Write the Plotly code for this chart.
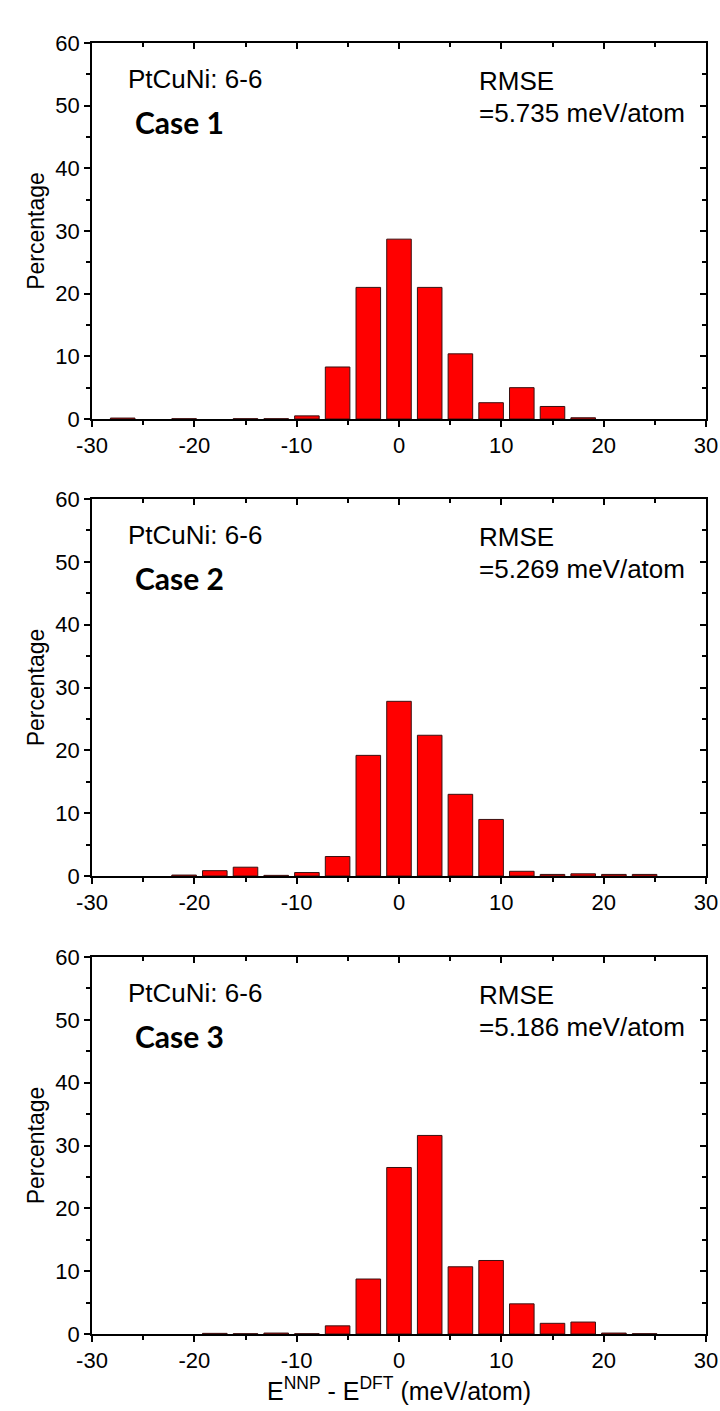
import plotly.graph_objects as go

# Bin centres (meV/atom)
bin_centers = [-27, -24, -21, -18, -15, -12, -9, -6, -3, 0, 3, 6, 9, 12, 15, 18, 21, 24]

# None = empty bin (no bar drawn)
case1_pct = [0.15, None, 0.05, None, 0.05, 0.05, 0.5, 8.3, 21.0, 28.7, 21.0, 10.4, 2.6, 5.0, 2.0, 0.2, None, None]
case2_pct = [None, None, 0.15, 0.85, 1.4, 0.1, 0.55, 3.1, 19.2, 27.8, 22.4, 13.0, 9.0, 0.75, 0.25, 0.35, 0.25, 0.25]
case3_pct = [None, None, None, 0.1, 0.05, 0.15, 0.05, 1.3, 8.75, 26.5, 31.6, 10.7, 11.7, 4.8, 1.7, 1.9, 0.15, 0.05]

case_labels = ["Case 1", "Case 2", "Case 3"]
rmse_labels = ["=5.735 meV/atom", "=5.269 meV/atom", "=5.186 meV/atom"]
system_label = "PtCuNi: 6-6"

x_ticks = [-30, -20, -10, 0, 10, 20, 30]
x_ticktext = ["-30", "-20", "-10", "0", "10", "20", "30"]
y_ticks = [0, 10, 20, 30, 40, 50, 60]
y_ticktext = ["0", "10", "20", "30", "40", "50", "60"]

series = [case1_pct, case2_pct, case3_pct]

W, H = 720, 1411
top_px, bot_px = 43, 1334
span = bot_px - top_px
panels_px = [(43, 419), (499, 876), (957, 1334)]
domains = [[(bot_px - b) / span, (bot_px - t) / span] for (t, b) in panels_px]

FONT = "Liberation Sans, Arial, sans-serif"

fig = go.Figure()
layout = dict(
    width=W, height=H,
    margin=dict(l=92, r=14, t=top_px, b=H - bot_px, autoexpand=False),
    paper_bgcolor="white", plot_bgcolor="white",
    showlegend=False,
    bargap=0.2,
    font=dict(family=FONT, color="black", size=22),
)

annotations = []
for i in range(3):
    n = i + 1
    xs = "" if n == 1 else str(n)
    xa, ya = "x" + xs, "y" + xs
    mx, my = 3 + n, 3 + n  # mirror axes x4..x6, y4..y6
    fig.add_trace(go.Bar(x=bin_centers, y=series[i], xaxis=xa, yaxis=ya,
                         marker=dict(color="#FF0000", line=dict(color="#3a1010", width=1))))
    fig.add_trace(go.Scatter(x=[None], y=[None], xaxis="x%d" % mx, yaxis="y%d" % my,
                             showlegend=False, hoverinfo="skip"))

    common_x = dict(range=[-30, 30], tickvals=x_ticks, ticktext=x_ticktext,
                    showgrid=False, zeroline=False,
                    linecolor="black", linewidth=1.5, tickcolor="black", tickwidth=1.5,
                    ticklen=6, automargin=False)
    common_y = dict(range=[0, 60], tickvals=y_ticks, ticktext=y_ticktext,
                    showgrid=False, zeroline=False,
                    linecolor="black", linewidth=1.5, tickcolor="black", tickwidth=1.5,
                    ticklen=6, automargin=False)

    xdict = dict(common_x, domain=[0, 1], anchor=ya, ticks="outside", showline=True,
                 minor=dict(ticks="outside", dtick=5, tick0=-30, ticklen=4,
                            tickcolor="black", tickwidth=1.5),
                 tickfont=dict(size=22))
    if n == 3:
        xdict["title"] = dict(text="E<sup>NNP</sup> - E<sup>DFT</sup> (meV/atom)",
                              font=dict(size=25), standoff=2)
    ydict = dict(common_y, domain=domains[i], anchor=xa, ticks="outside", showline=True,
                 minor=dict(ticks="outside", dtick=5, tick0=0, ticklen=4,
                            tickcolor="black", tickwidth=1.5),
                 tickfont=dict(size=22),
                 title=dict(text="Percentage", font=dict(size=23), standoff=4))
    layout["xaxis" + xs] = xdict
    layout["yaxis" + xs] = ydict

    layout["xaxis%d" % mx] = dict(common_x, overlaying=xa, anchor=ya, side="top",
                                  ticks="inside", showline=True, showticklabels=False,
                                  minor=dict(ticks="inside", dtick=5, tick0=-30, ticklen=4,
                                             tickcolor="black", tickwidth=1.5))
    layout["yaxis%d" % my] = dict(common_y, overlaying=ya, anchor=xa, side="right",
                                  domain=domains[i],
                                  ticks="inside", showline=True, showticklabels=False,
                                  minor=dict(ticks="inside", dtick=5, tick0=0, ticklen=4,
                                             tickcolor="black", tickwidth=1.5))

    annotations += [
        dict(x=-26.7, y=54.25, xref=xa, yref=ya, text=system_label, showarrow=False,
             xanchor="left", yanchor="middle", font=dict(size=26, family=FONT)),
        dict(x=-26.0, y=47.4, xref=xa, yref=ya, text="<b>%s</b>" % case_labels[i],
             showarrow=False, xanchor="left", yanchor="middle",
             font=dict(size=30, family="Lato, Open Sans, sans-serif")),
        dict(x=7.6, y=54.0, xref=xa, yref=ya, text="RMSE", showarrow=False,
             xanchor="left", yanchor="middle", font=dict(size=26, family=FONT)),
        dict(x=7.6, y=48.8, xref=xa, yref=ya, text=rmse_labels[i], showarrow=False,
             xanchor="left", yanchor="middle", font=dict(size=26, family=FONT)),
    ]

layout["annotations"] = annotations
fig.update_layout(**layout)
fig.write_html("out.html",
               config={"displayModeBar": False},
               post_script="document.body.style.margin='0px';document.body.style.overflow='hidden';")
